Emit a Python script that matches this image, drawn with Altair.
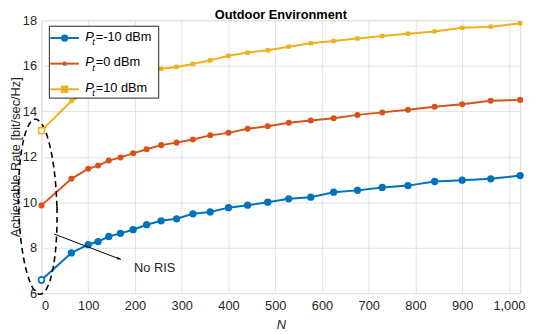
import altair as alt
import pandas as pd
import numpy as np

# ---------------- data ----------------
N = [0, 64, 100, 121, 144, 169, 196, 225, 256, 289, 324, 361, 400, 441, 484,
     529, 576, 625, 676, 729, 784, 841, 900, 961, 1024]
rate_m10 = [6.58, 7.77, 8.13, 8.27, 8.49, 8.63, 8.79, 9.01, 9.18, 9.27, 9.49,
            9.57, 9.76, 9.87, 10.00, 10.15, 10.22, 10.44, 10.52, 10.65, 10.73,
            10.91, 10.97, 11.03, 11.17]
rate_0 = [9.86, 11.03, 11.47, 11.61, 11.83, 11.97, 12.15, 12.33, 12.51, 12.62,
          12.76, 12.94, 13.05, 13.23, 13.34, 13.49, 13.59, 13.69, 13.84, 13.95,
          14.07, 14.20, 14.31, 14.46, 14.50]
rate_10 = [13.15, 14.45, 14.85, 15.05, 15.25, 15.42, 15.58, 15.72, 15.87, 15.95,
           16.08, 16.24, 16.44, 16.58, 16.68, 16.84, 16.99, 17.09, 17.20, 17.31,
           17.41, 17.51, 17.67, 17.72, 17.87]
series = ["Pt=-10 dBm", "Pt=0 dBm", "Pt=10 dBm"]
legend_rest = ["=-10 dBm", "=0 dBm", "=10 dBm"]
colors = ["#0072BD", "#D95319", "#EDB120"]
shapes = ["circle", "circle", "square"]
sizes = [55, 20, 56]
x_ticks = [0, 100, 200, 300, 400, 500, 600, 700, 800, 900, 1000]
y_ticks = [6, 8, 10, 12, 14, 16, 18]
title_text = "Outdoor Environment"
x_title = "N"
y_title = "Achievable Rate [bit/sec/Hz]"
annot_text = "No RIS"

# ---------------- geometry ----------------
W, H = 486, 277
X_DOM = [0, 1024]
Y_DOM = [6, 18]
FONT = "Liberation Sans"

rows = []
for s, vals in zip(series, [rate_m10, rate_0, rate_10]):
    for n, v in zip(N, vals):
        rows.append({"N": n, "rate": v, "series": s})
df = pd.DataFrame(rows)

xs = alt.Scale(domain=X_DOM, nice=False, zero=False)
ys = alt.Scale(domain=Y_DOM, nice=False, zero=False)
cs = alt.Scale(domain=series, range=colors)

xenc = alt.X("N:Q", scale=xs,
             axis=alt.Axis(values=x_ticks, title=x_title, grid=True, ticks=False,
                           domain=False, labelFontSize=13, labelFont=FONT,
                           labelColor="#262626", labelPadding=7,
                           titleFont=FONT, titleFontSize=13, titleFontStyle="italic",
                           titleFontWeight="normal", titleColor="#262626",
                           titlePadding=6, gridColor="#e3e3e3"))
yenc = alt.Y("rate:Q", scale=ys,
             axis=alt.Axis(values=y_ticks, title=y_title, grid=True, ticks=False,
                           domain=False, labelFontSize=13, labelFont=FONT,
                           labelColor="#262626", labelPadding=5,
                           titleFont=FONT, titleFontSize=13,
                           titleFontWeight="normal", titleColor="#262626",
                           titlePadding=0, gridColor="#e3e3e3"))

lines = alt.Chart(df).mark_line(strokeWidth=2).encode(
    x=xenc, y=yenc,
    color=alt.Color("series:N", scale=cs, legend=None),
)
points = alt.Chart(df).mark_point(filled=True, opacity=1).encode(
    x=alt.X("N:Q", scale=xs), y=alt.Y("rate:Q", scale=ys),
    color=alt.Color("series:N", scale=cs, legend=None),
    shape=alt.Shape("series:N", scale=alt.Scale(domain=series, range=shapes), legend=None),
    size=alt.Size("series:N", scale=alt.Scale(domain=series, range=sizes), legend=None),
)
open_df = df[(df["N"] == 0) & (df["series"] != series[1])]
open_pts = alt.Chart(open_df).mark_point(filled=True, fill="white", strokeWidth=1.6, opacity=1).encode(
    x=alt.X("N:Q", scale=xs), y=alt.Y("rate:Q", scale=ys),
    stroke=alt.Stroke("series:N", scale=cs, legend=None),
    shape=alt.Shape("series:N", scale=alt.Scale(domain=series, range=shapes), legend=None),
    size=alt.value(34),
)

# dashed ellipse around the "No RIS" points
cx, cy, rx, ry, sk = -8, 9.8, 41, 3.85, 5
t = np.linspace(0, 2 * np.pi, 121)
ell = pd.DataFrame({"N": cx + rx * np.cos(t) - sk * np.sin(t),
                    "rate": cy + ry * np.sin(t), "o": np.arange(len(t))})
ellipse = alt.Chart(ell).mark_line(color="black", strokeWidth=1.6,
                                   strokeDash=[6, 4]).encode(
    x=alt.X("N:Q", scale=xs), y=alt.Y("rate:Q", scale=ys), order="o:Q")

# arrow
a0, a1 = (27, 8.60), (170, 7.48)
arr = pd.DataFrame({"N": [a0[0], a1[0]], "rate": [a0[1], a1[1]], "o": [0, 1]})
arrow_line = alt.Chart(arr).mark_line(color="black", strokeWidth=1).encode(
    x=alt.X("N:Q", scale=xs), y=alt.Y("rate:Q", scale=ys), order="o:Q")
ang = float(np.degrees(np.arctan2((a0[1] - a1[1]) * H / 12, (a1[0] - a0[0]) * W / 1024)))
head = alt.Chart(arr.iloc[[1]]).mark_point(
    shape="M0,0L-2,-0.7L-2,0.7Z", filled=True, color="black", size=16,
    angle=ang, opacity=1).encode(x=alt.X("N:Q", scale=xs), y=alt.Y("rate:Q", scale=ys))
label = alt.Chart(pd.DataFrame({"N": [198], "rate": [6.94], "txt": [annot_text]})).mark_text(
    align="left", baseline="alphabetic", fontSize=13, font=FONT, color="#262626").encode(
    x=alt.X("N:Q", scale=xs), y=alt.Y("rate:Q", scale=ys), text="txt:N")

one = pd.DataFrame({"a": [0]})

# title as text (kept inside the drawable page area)
title = alt.Chart(one).mark_text(text=title_text, align="center", baseline="alphabetic",
                                 fontSize=13, fontWeight="bold", font=FONT,
                                 color="black").encode(
    x=alt.value(W / 2), y=alt.value(-1))

# manual legend
leg_layers = [alt.Chart(one).mark_rect(fill="white", stroke="#262626", strokeWidth=1).encode(
    x=alt.value(8), x2=alt.value(119), y=alt.value(6), y2=alt.value(79))]
row_y = [18, 44, 70]
for i in range(3):
    yy = row_y[i]
    leg_layers.append(alt.Chart(one).mark_rule(color=colors[i], strokeWidth=2).encode(
        x=alt.value(9), x2=alt.value(38), y=alt.value(yy)))
    leg_layers.append(alt.Chart(one).mark_point(filled=True, color=colors[i], shape=shapes[i],
                                                size=sizes[i], opacity=1).encode(
        x=alt.value(23.5), y=alt.value(yy)))
    leg_layers.append(alt.Chart(one).mark_text(text="P", align="left", baseline="alphabetic",
                                               fontSize=13, font=FONT, fontStyle="italic",
                                               color="black").encode(
        x=alt.value(44.5), y=alt.value(yy + 2.5)))
    leg_layers.append(alt.Chart(one).mark_text(text="t", align="left", baseline="alphabetic",
                                               fontSize=9.5, font=FONT, fontStyle="italic",
                                               color="black").encode(
        x=alt.value(51.5), y=alt.value(yy + 7)))
    leg_layers.append(alt.Chart(one).mark_text(text=legend_rest[i], align="left",
                                               baseline="alphabetic", fontSize=13, font=FONT,
                                               color="black").encode(
        x=alt.value(55), y=alt.value(yy + 2.5)))

chart = alt.layer(lines, ellipse, points, open_pts, arrow_line, head, label, title,
                  *leg_layers).properties(
    width=W, height=H,
    autosize=alt.AutoSizeParams(type="none"),
    padding={"left": 34, "top": 10, "right": 10, "bottom": 40},
).configure_view(stroke="#262626", strokeWidth=1).configure(background="white")

chart.save("out.html", embed_options={"renderer": "svg", "actions": False})
